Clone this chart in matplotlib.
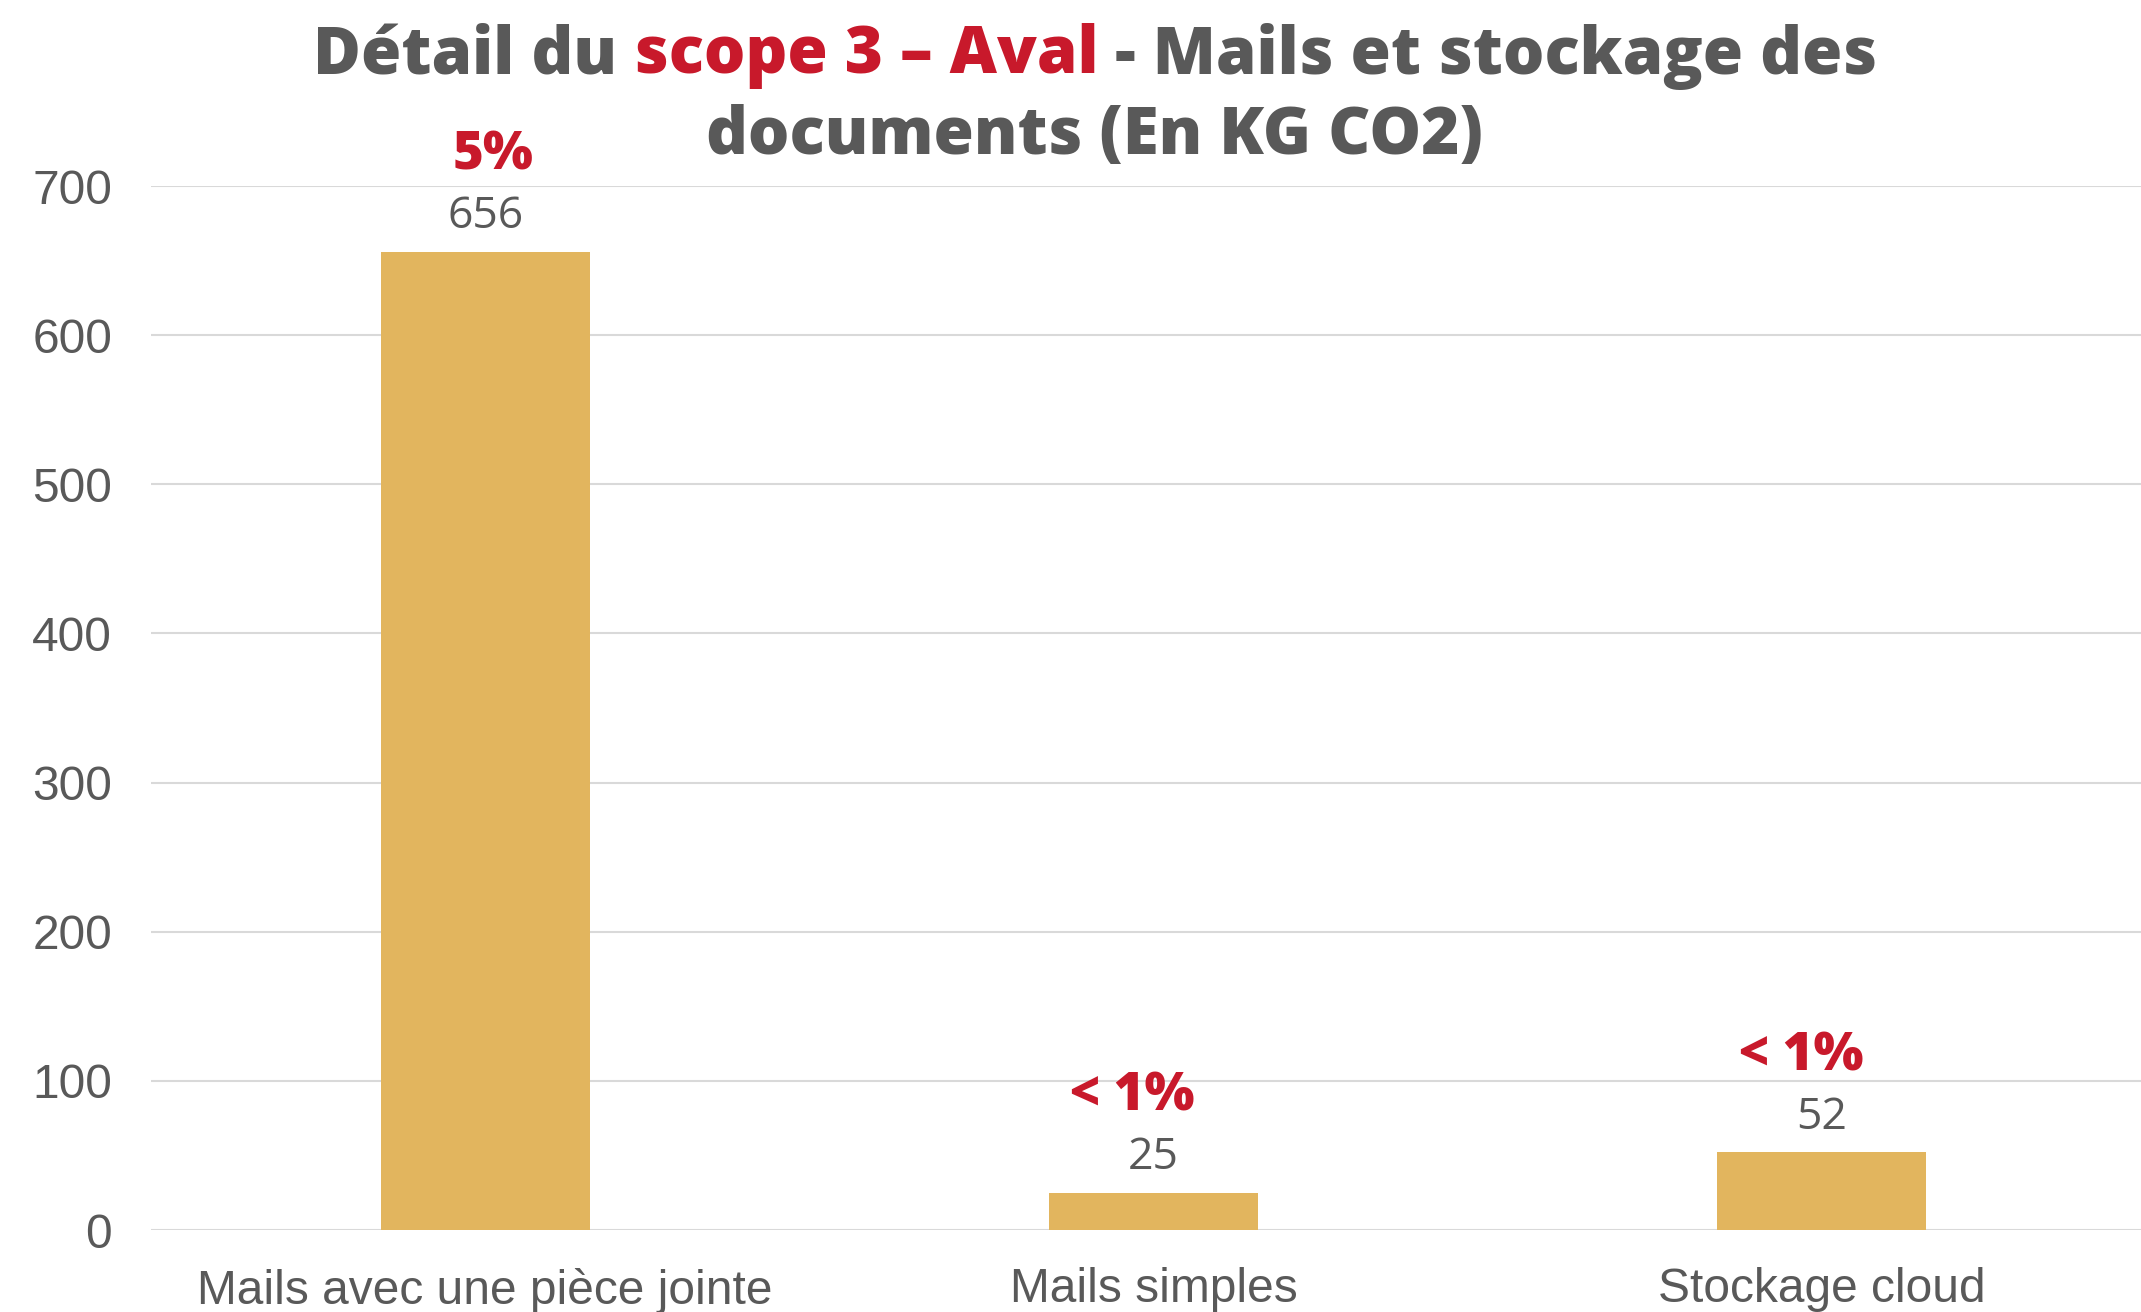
import matplotlib.pyplot as plt
import numpy as np

# données
categories = ['Mails avec une pièce jointe', 'Mails simples', 'Stockage cloud']
valeurs = [656, 25, 52]
parts = ['5%', '< 1%', '< 1%']
decalage_parts = [6, -15, -15]   # les étiquettes % ne sont pas tout à fait centrées

gris = '#595959'
rouge = '#C8192B'
jaune = '#E2B55E'

fig = plt.figure(figsize=(21.41, 13.12), dpi=100)
ax = fig.add_axes([151/2141, 1 - 1230/1312, 2005/2141, (1230 - 186)/1312])

x = np.arange(len(categories))
ax.bar(x, valeurs, width=0.3126, color=jaune, zorder=3)
ax.set_xlim(-0.5, len(categories) - 0.5)
ax.set_ylim(0, 700)
ax.set_yticks(range(0, 701, 100))
ax.set_xticks(x)
ax.set_xticklabels(categories)
ax.tick_params(axis='both', length=0, labelsize=34.5, colors=gris)
ax.tick_params(axis='y', pad=28)
ax.tick_params(axis='x', pad=27)
for lab in ax.get_xticklabels() + ax.get_yticklabels():
    lab.set_family('Liberation Sans')
ax.grid(axis='y', color='#D9D9D9', linewidth=1.5, zorder=0)
for s in ax.spines.values():
    s.set_visible(False)

for xi, v, p, dx in zip(x, valeurs, parts, decalage_parts):
    ax.annotate(str(v), (xi, v), xytext=(0, 25), textcoords='offset points',
                ha='center', va='center', fontsize=32, color=gris, family='Open Sans')
    ax.annotate(p, (xi, v), xytext=(dx, 69), textcoords='offset points',
                ha='center', va='center', fontsize=38, color=rouge,
                family='Open Sans', fontweight='heavy')

# titre en morceaux (deux couleurs)
fig.canvas.draw()
r = fig.canvas.get_renderer()
morceaux = [('Détail du ', gris), ('scope 3 – Aval', rouge), (' - Mails et stockage des', gris)]
cx = 1095 / 2141
y1 = 1 - 56 / 1312
y2 = 1 - 137 / 1312
kw = dict(fontsize=47, family='Open Sans', fontweight='heavy', va='center', ha='left')
textes = [fig.text(0, y1, t, color=c, **kw) for t, c in morceaux]
largeurs = [t.get_window_extent(r).width for t in textes]
total = sum(largeurs)
pos = cx * fig.bbox.width - total / 2
for t, w in zip(textes, largeurs):
    t.set_x(pos / fig.bbox.width)
    pos += w
fig.text(cx, y2, 'documents (En KG CO2)', color=gris, fontsize=47, family='Open Sans',
         fontweight='heavy', va='center', ha='center')

plt.savefig('out.png', dpi=100)
